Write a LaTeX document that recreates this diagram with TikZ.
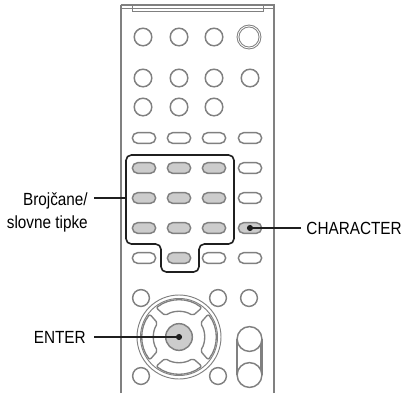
\documentclass[tikz,border=0pt]{standalone}
\usepackage{fontspec}
\setmainfont[FakeStretch=0.87]{Liberation Sans}
\definecolor{keyline}{gray}{0.5}
\definecolor{keyfill}{gray}{0.80}
\definecolor{inkk}{gray}{0.12}
\usetikzlibrary{shapes.misc,calc}
\tikzset{
  x=0.75pt,y=-0.75pt,
  round key/.style={circle,draw=keyline,line width=1.1pt,minimum size=13.2pt,inner sep=0pt},
  power key/.style={circle,draw=keyline,line width=0.75pt,double=white,double distance=0.6pt,minimum size=16.5pt,inner sep=0pt},
  pill/.style={rounded rectangle,draw=keyline,line width=1.1pt,fill=white,minimum width=17.5pt,minimum height=8pt,inner sep=0pt},
  pill on/.style={pill,fill=keyfill},
  label text/.style={font=\fontsize{13.2pt}{17.25pt}\selectfont,text=black,inner sep=0pt},
  leader/.style={draw=inkk,line width=1.15pt},
  dotend/.style={circle,fill=inkk,minimum size=4.6pt,inner sep=0pt},
  body/.style={draw=keyline},
  thin part/.style={draw=keyline,line width=0.7pt},
  arrowkey/.style={draw=keyline,line width=1.0pt,fill=white,rounded corners=1.5pt}
}
\begin{document}
\begin{tikzpicture}
\useasboundingbox (0,0) rectangle (403,393);
% body
\draw[body,line width=1.1pt] (121,393) -- (121,5);
\draw[body,line width=1.8pt] (274,393) -- (274,5);
\draw[body,line width=1.2pt] (120.6,5) -- (274.6,5);
\draw[thin part] (121,8) -- (132,8) (263,8) -- (274,8);
\draw[thin part,fill=white] (132,5) rectangle (263,11);
\draw[thin part] (132,8) -- (263,8);
% round keys
\foreach \nm/\px/\py in {a/143/37,b/179/37,c/214/37,d/143/78,e/179/78,f/214/78,g/250/78,h/143/107,i/179/107,j/214/107}
  \node[round key] (k\nm) at (\px,\py) {};
\node[power key] (kpow) at (249,37) {};
% pills
\foreach \nm/\px/\py in {a/144/138,b/179/138,c/214/138,d/250/138,e/250/168,f/250/198,g/144/258,h/214/258,i/250/258}
  \node[pill] (p\nm) at (\px,\py) {};
\foreach \nm/\px/\py in {j/144/168,k/179/168,l/214/168,m/144/198,n/179/198,o/214/198,p/144/228,q/179/228,r/214/228,s/250/228,t/179/258}
  \node[pill on] (p\nm) at (\px,\py) {};
% bracket
\draw[draw=inkk,line width=1.2pt,rounded corners=4pt]
  (126,155) -- (234,155) -- (234,244) -- (199,244) -- (199,272) -- (161,272) -- (161,244) -- (126,244) -- cycle;
% lower round keys
\foreach \nm/\px/\py in {a/141/298,b/218/298,c/249/298,d/141/376,e/218/376}
  \node[round key,minimum size=12.6pt] (m\nm) at (\px,\py) {};
% dial
\coordinate (dial) at (179,337);
\draw[thin part] (dial) circle[radius=31.5pt];
\draw[thin part] (dial) circle[radius=28.9pt];
\foreach \a in {90,0,180,270}{
  \draw[arrowkey] ($(dial)+(\a+38:27.75pt)$) arc[start angle=\a+38,end angle=\a-38,radius=27.75pt]
   -- ($(dial)+(\a-33:19.1pt)$) arc[start angle=\a-33,end angle=\a+33,radius=19.1pt] -- cycle;
}
\node[circle,draw=keyline,line width=1.1pt,fill=keyfill,minimum size=20pt,inner sep=0pt] (center) at (179,337) {};
% rocker
\draw[draw=keyline,line width=0.9pt] (237,339) -- (237,375) (262,339) -- (262,375);
\draw[draw=keyline,line width=0.6pt] (260,340) -- (260,374);
\node[round key,minimum size=18.6pt,fill=white] (rup) at (249.5,339) {};
\node[round key,minimum size=18.6pt,fill=white] (rdn) at (249.5,375) {};
% labels
\node[label text,align=right,anchor=east] (nums) at (88,212) {Brojčane/\\slovne tipke};
\node[label text,anchor=east] (chr) at (402,228) {CHARACTER};
\node[label text,anchor=east] (ent) at (86,337) {ENTER};
\coordinate (numsend) at (94,198);
\coordinate (numsbox) at (126,198);
\coordinate (chrstart) at (301,228);
\coordinate (entstart) at (94,337);
\draw[leader] (numsend) -- (numsbox);
\node[dotend] (d1) at (250,228) {};
\node[dotend] (d2) at (179,337) {};
\draw[leader] (chrstart) -- (d1);
\draw[leader] (entstart) -- (d2);
\end{tikzpicture}
\end{document}
